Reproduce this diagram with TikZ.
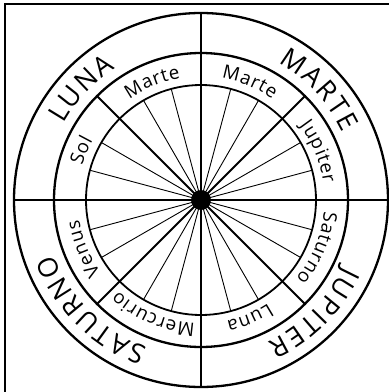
\documentclass[tikz,border=0pt]{standalone}
\usepackage{fontspec}
\setmainfont{Open Sans}
\newbox\arcbox
\newdimen\arcdim
\newcommand\measurechar[2]{%
  \pgfinterruptpicture\global\setbox\arcbox\hbox{\normalfont#1#2}\endpgfinterruptpicture
  \global\arcdim=\wd\arcbox
}
\newcommand\arctext[5]{%
  \gdef\arctot{0}%
  \foreach \lettr in {#5}{%
    \measurechar{#3}{\lettr}%
    \pgfmathparse{\arctot+\arcdim+#4}\xdef\arctot{\pgfmathresult}%
  }%
  \pgfmathparse{\arctot-#4}\xdef\arctot{\pgfmathresult}%
  \gdef\arcpos{0}%
  \foreach \lettr in {#5}{%
    \measurechar{#3}{\lettr}%
    \pgfmathparse{\arcdim}\let\cw\pgfmathresult
    \pgfmathparse{#2+(\arctot/2-\arcpos-\cw/2)/#1*180/pi}\let\ang\pgfmathresult
    \pgfmathparse{\arcpos+\cw+#4}\xdef\arcpos{\pgfmathresult}%
    \node[rotate=\ang-90,anchor=base,inner sep=0pt,outer sep=0pt] at (\ang:#1pt) {#3\lettr};
  }%
}
\newcommand\bigfont{\fontsize{27}{30}\selectfont}
\newcommand\smallfont{\fontsize{18.8}{21}\selectfont}
\tikzset{
  thickring/.style={line width=2.3pt},
  midring/.style={line width=1.8pt},
  axisline/.style={line width=1.8pt},
  thinspoke/.style={line width=0.9pt},
  frameline/.style={line width=1.1pt}
}
\begin{document}
\begin{tikzpicture}[x=1pt,y=1pt]
\useasboundingbox (-201,-192) rectangle (188,200);
\fill[white] (-201,-192) rectangle (188,200);
\draw[frameline] (-196,-195) -- (-196,196) -- (192,196);
% circles
\coordinate (c) at (0,0);
\draw[thickring] (c) circle (187);
\draw[thickring] (c) circle (147);
\draw[midring] (c) circle (115);
% axes
\draw[axisline] (-187,0) -- (187,0);
\draw[axisline] (0,-187) -- (0,187);
% diagonals
\foreach \a in {45,135,225,315} \draw[axisline] (c) -- (\a:147);
% thin spokes
\foreach \a in {15,30,60,75,105,120,150,165,195,210,240,255,285,300,330,345}
  \draw[thinspoke] (c) -- (\a:115);
\fill (c) circle (10);
% outer labels
\arctext{157}{137}{\bigfont}{2}{L,U,N,A}
\arctext{157}{43}{\bigfont}{2}{M,A,R,T,E}
\arctext{157}{-45}{\bigfont}{2}{J,U,P,I,T,E,R}
\arctext{157}{225}{\bigfont}{2}{S,A,T,U,R,N,O}
% inner labels
\arctext{123.5}{112.5}{\smallfont}{0.8}{M,a,r,t,e}
\arctext{123.5}{67.5}{\smallfont}{0.8}{M,a,r,t,e}
\arctext{123.5}{22.5}{\smallfont}{0.8}{J,u,p,i,t,e,r}
\arctext{123.5}{-22.5}{\smallfont}{0.8}{S,a,t,u,r,n,o}
\arctext{123.5}{-67.5}{\smallfont}{0.8}{L,u,n,a}
\arctext{123.5}{-112.5}{\smallfont}{0.8}{M,e,r,c,u,r,i,o}
\arctext{123.5}{-157.5}{\smallfont}{0.8}{V,e,n,u,s}
\arctext{123.5}{157.5}{\smallfont}{0.8}{S,o,l}
\end{tikzpicture}
\end{document}
